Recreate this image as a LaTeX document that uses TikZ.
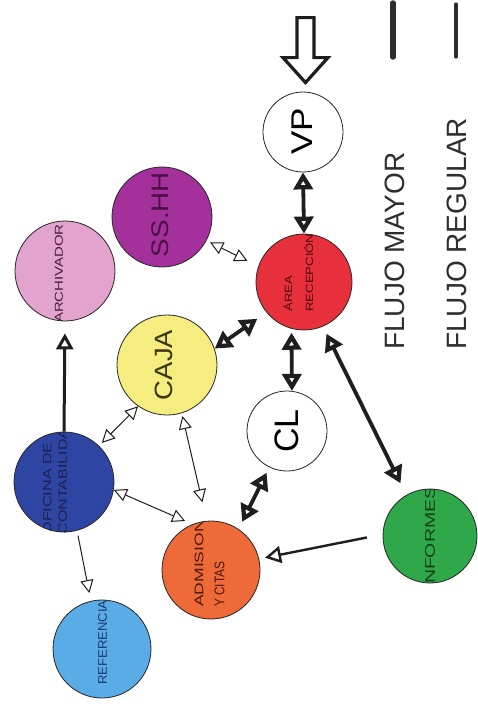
\documentclass[tikz,border=0pt]{standalone}
\usepackage{fontspec}
\setmainfont{Liberation Sans}
\usepackage{graphicx}
\usetikzlibrary{arrows.meta}

\definecolor{ink}{HTML}{1E1E1E}
\definecolor{legendgray}{HTML}{2E2E2E}
\definecolor{sshhfill}{HTML}{A3309B}
\definecolor{sshhtext}{HTML}{4A1046}
\definecolor{recfill}{HTML}{E8303C}
\definecolor{rectext}{HTML}{4A0A0E}
\definecolor{archfill}{HTML}{E3A3CF}
\definecolor{archtext}{HTML}{4A1A40}
\definecolor{cajafill}{HTML}{F5ED80}
\definecolor{cajatext}{HTML}{3A3812}
\definecolor{ofifill}{HTML}{2F45A3}
\definecolor{ofitext}{HTML}{1A2050}
\definecolor{admfill}{HTML}{EE6A38}
\definecolor{admtext}{HTML}{4A1A08}
\definecolor{inffill}{HTML}{2FA84A}
\definecolor{inftext}{HTML}{10401A}
\definecolor{reffill}{HTML}{5AACE6}
\definecolor{reftext}{HTML}{1A3A70}

% horizontal stretch of a label, in the label's own frame
\newcommand\hstretch[2]{\scalebox{#1}[1]{#2}}

\tikzset{
  bigtip/.tip={Triangle[fill=white,length=17pt,width=19pt,line width=5pt]},
  midtip/.tip={Triangle[fill=white,length=16pt,width=17pt]},
  thintip/.tip={Triangle[fill=white,length=13pt,width=13pt]},
  room/.style={circle, draw=black!85, line width=0.8pt, minimum size=#1, inner sep=0pt},
  lbl/.style={rotate=90, inner sep=0pt, align=left, anchor=west},
  biglbl/.style={rotate=90, inner sep=0pt, anchor=center},
  major/.style={draw=ink, line width=3.8pt, {bigtip}-{bigtip}},
  medium/.style={draw=ink, line width=2.4pt, -{midtip}},
  minor/.style={draw=ink, line width=1pt, {thintip}-{thintip}},
  minorone/.style={draw=ink, line width=1pt, -{thintip}},
  legendline/.style={draw=legendgray, line cap=round},
  legendtext/.style={rotate=90, inner sep=0pt, anchor=west, text=legendgray,
    font=\fontsize{28}{30}\selectfont},
}

\begin{document}
\begin{tikzpicture}[x=1pt,y=-1pt]
\useasboundingbox (0,0) rectangle (478,704);
\fill[white] (0,0) rectangle (478,704);

% ---- rooms ----
\node[room=80pt, fill=white, path picture={
  \node[biglbl, font=\fontsize{30}{32}\selectfont] (vplbl)
    at ([shift={(-1,-1)}]path picture bounding box.center) {\hstretch{1.17}{VP}};
}] (vp) at (303,132) {};

\node[room=100pt, fill=sshhfill, path picture={
  \node[biglbl, text=sshhtext, font=\fontsize{24}{26}\selectfont] (sslbl)
    at ([shift={(-2,-2.5)}]path picture bounding box.center) {\hstretch{1.16}{SS.HH}};
}] (ss) at (162,217) {};

\node[room=96pt, fill=recfill, path picture={
  \node[lbl, text=rectext, font=\fontsize{10.5}{21}\selectfont] (reclbl)
    at ([shift={(-6,39)}]path picture bounding box.center)
    {\hstretch{1.25}{ÁREA}\\\hstretch{1.25}{RECEPCIÓN}};
}] (rec) at (304,282) {};

\node[room=100pt, fill=archfill, path picture={
  \node[lbl, text=archtext, font=\fontsize{11.5}{13}\selectfont] (archlbl)
    at ([shift={(-6,53)}]path picture bounding box.center) {\hstretch{1.3}{ARCHIVADOR}};
}] (arch) at (65,271) {};

\node[room=100pt, fill=cajafill, path picture={
  \node[biglbl, text=cajatext, font=\fontsize{25}{27}\selectfont] (cajalbl)
    at ([shift={(-3,0)}]path picture bounding box.center) {\hstretch{1.1}{CAJA}};
}] (caja) at (167,365) {};

\node[room=80pt, fill=white, path picture={
  \node[biglbl, font=\fontsize{34}{36}\selectfont] (cllbl)
    at (path picture bounding box.center) {CL};
}] (cl) at (287,431) {};

\node[room=100pt, fill=ofifill, path picture={
  \node[lbl, text=ofitext, font=\fontsize{12}{15.5}\selectfont] (ofilbl)
    at ([shift={(-9,54)}]path picture bounding box.center)
    {\hstretch{1.34}{OFICINA DE}\\\hstretch{1.34}{CONTABILIDAD}};
}] (ofi) at (64,482) {};

\node[room=98pt, fill=admfill, path picture={
  \node[lbl, text=admtext, font=\fontsize{12.5}{21}\selectfont] (admlbl)
    at ([shift={(-1.5,43)}]path picture bounding box.center)
    {\hstretch{1.4}{ADMISION}\\\hstretch{0.85}{\fontsize{14}{21}\selectfont Y CITAS}};
}] (adm) at (211,570) {};

\node[room=94pt, fill=inffill, path picture={
  \node[lbl, text=inftext, font=\fontsize{14}{16}\selectfont] (inflbl)
    at ([shift={(0,54)}]path picture bounding box.center) {\hstretch{1.39}{INFORMES}};
}] (inf) at (430,536) {};

\node[room=98pt, fill=reffill, path picture={
  \node[lbl, text=reftext, font=\fontsize{12.5}{14}\selectfont] (reflbl)
    at ([shift={(0.5,43)}]path picture bounding box.center) {\hstretch{1.05}{REFERENCIA}};
}] (ref) at (102,649) {};

% ---- entry marker above VP ----
\draw[ink, line width=3.2pt, fill=white, line join=miter]
  ([shift={(-6,-74)}]vp.north) -- ([shift={(11,-74)}]vp.north)
  -- ([shift={(11,-34)}]vp.north) -- ([shift={(25,-34)}]vp.north)
  -- ([shift={(2.5,-9)}]vp.north) -- ([shift={(-20,-34)}]vp.north)
  -- ([shift={(-6,-34)}]vp.north) -- cycle;

% ---- major flows ----
\draw[major] (vp.south) -- (rec.north);
\draw[major, shorten <=11pt] (rec.219) -- (caja.19);
\draw[major, shorten <=4pt] (rec.255) -- (cl.83);
\draw[major, shorten <=8pt, shorten >=13pt] (rec.293) -- (inf.120);
\draw[major, shorten <=6pt, shorten >=8pt] (cl.244) -- (adm.56);
\draw[medium, shorten <=16pt, shorten >=6pt] (inf.178) -- (adm.13);
\draw[medium, line width=3pt, shorten >=12pt] (ofi.north) -- (arch.south);

% ---- regular flows ----
\draw[minor, shorten <=4pt, shorten >=12pt] (ss.332) -- (rec.161);
\draw[minor, shorten >=4pt] (caja.235) -- (ofi.46);
\draw[minor, shorten <=3pt, shorten >=19pt] (caja.287) -- (adm.95);
\draw[minor, shorten >=8pt] (ofi.351) -- (adm.112);
\draw[minorone, shorten <=5pt, shorten >=8pt] (ofi.285) -- (ref.103);

% ---- legend ----
\coordinate (majtop) at (393,3);
\coordinate (majbot) at (393,57);
\coordinate (regtop) at (456,4);
\coordinate (regbot) at (456,57);
\draw[legendline, line width=5.5pt] (majtop) -- (majbot);
\draw[legendline, line width=3.2pt] (regtop) -- (regbot);
\node[legendtext] (lgmaj) at (395,350) {FLUJO MAYOR};
\node[legendtext] (lgreg) at (457,350) {FLUJO REGULAR};
\end{tikzpicture}
\end{document}
